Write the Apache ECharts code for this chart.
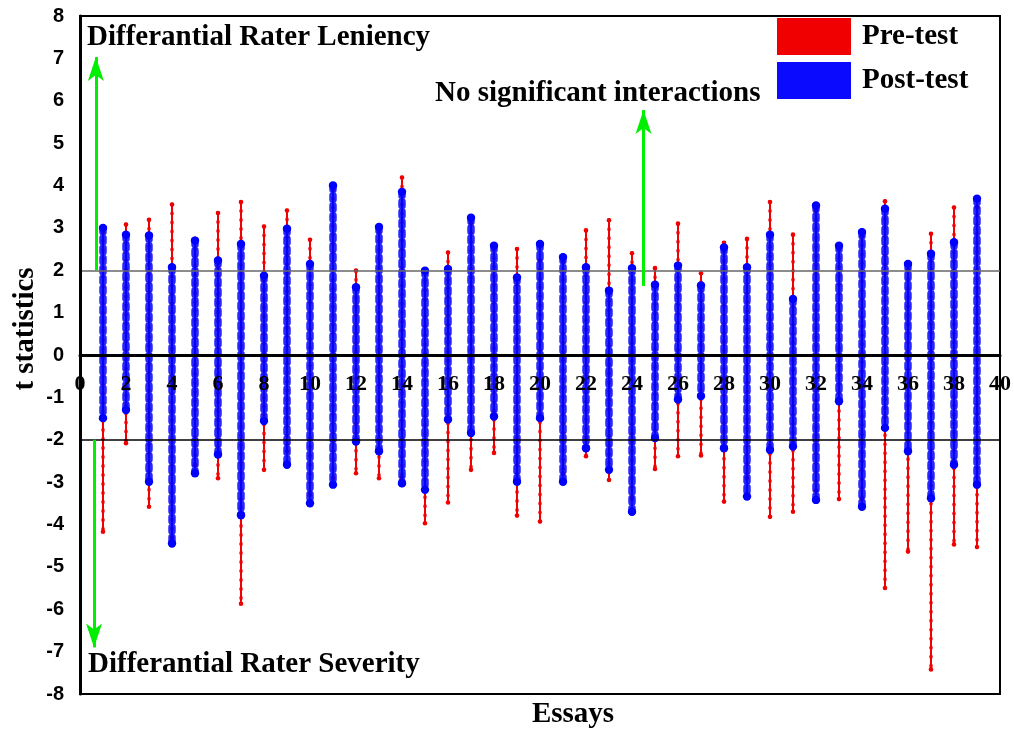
<!DOCTYPE html>
<html>
<head>
<meta charset="utf-8">
<script src="https://cdn.jsdelivr.net/npm/echarts@6/dist/echarts.min.js"></script>
<style>
  html, body { margin: 0; padding: 0; background: #fff; }
  #container { width: 1014px; height: 731px; }
</style>
</head>
<body>
<div id="container"></div>
<script>
var essays = [1, 2, 3, 4, 5, 6, 7, 8, 9, 10, 11, 12, 13, 14, 15, 16, 17, 18, 19, 20,
              21, 22, 23, 24, 25, 26, 27, 28, 29, 30, 31, 32, 33, 34, 35, 36, 37, 38, 39];
// pre-test t statistics, top and bottom of each essay's spread
var preMax = [2.9, 3.08, 3.19, 3.55, 2.74, 3.35, 3.61, 3.03, 3.41, 2.72, 3.9, 1.99, 2.9, 4.19, 1.95, 2.42, 3.1, 2.5, 2.5, 2.23,
              2.2, 2.94, 3.18, 2.4, 2.05, 3.1, 1.93, 2.65, 2.74, 3.61, 2.84, 3.4, 2.5, 2.8, 3.63, 2.0, 2.86, 3.48, 3.5];
var preMin = [-4.17, -2.08, -3.58, -4.3, -2.6, -2.91, -5.87, -2.71, -2.27, -3.3, -2.9, -2.79, -2.91, -2.9, -3.97, -3.48, -2.71, -2.31, -3.79, -3.93,
              -2.8, -2.39, -2.95, -3.4, -2.69, -2.39, -2.37, -3.46, -2.9, -3.82, -3.7, -3.2, -3.4, -3.4, -5.5, -4.64, -7.42, -4.47, -4.53];
// post-test
var postMax = [3.0, 2.84, 2.82, 2.07, 2.7, 2.23, 2.62, 1.87, 2.98, 2.15, 4.0, 1.6, 3.02, 3.85, 1.99, 2.03, 3.24, 2.58, 1.83, 2.62,
               2.31, 2.07, 1.52, 2.05, 1.66, 2.11, 1.64, 2.54, 2.07, 2.84, 1.32, 3.53, 2.58, 2.9, 3.45, 2.15, 2.39, 2.66, 3.69];
var postMin = [-1.49, -1.3, -2.99, -4.45, -2.79, -2.35, -3.78, -1.56, -2.59, -3.5, -3.06, -2.04, -2.27, -3.03, -3.18, -1.52, -1.84, -1.45, -2.99, -1.49,
               -2.99, -2.2, -2.71, -3.7, -1.96, -1.05, -0.97, -2.2, -3.34, -2.24, -2.16, -3.42, -1.09, -3.58, -1.72, -2.27, -3.38, -2.59, -3.06];

var xTicks = [0, 40, 2];
var yTicks = [-8, 8, 1];

window.onload = function () {
    var dom = document.getElementById("container");
    var myChart = echarts.init(dom);

    var serif = "'Liberation Serif', 'Times New Roman', serif";
    var sans = "'Liberation Sans', Arial, sans-serif";

    var preData = [];
    var postData = [];
    for (var i = 0; i < essays.length; i++) {
        preData.push([essays[i], preMin[i], preMax[i]]);
        postData.push([essays[i], postMin[i], postMax[i]]);
    }

    function rangeRenderer(color, lw, dotW, dash, r, op) {
        return function (params, api) {
            var top = api.coord([api.value(0), api.value(2)]);
            var bot = api.coord([api.value(0), api.value(1)]);
            var shape = { x1: top[0], y1: top[1], x2: bot[0], y2: bot[1] };
            return {
                type: 'group',
                children: [
                    { type: 'line', shape: shape, style: { stroke: color, lineWidth: lw } },
                    { type: 'line', shape: shape, style: { stroke: color, lineWidth: dotW, lineDash: dash, lineCap: 'round', opacity: op } },
                    { type: 'circle', shape: { cx: top[0], cy: top[1], r: r }, style: { fill: color } },
                    { type: 'circle', shape: { cx: bot[0], cy: bot[1], r: r }, style: { fill: color } }
                ]
            };
        };
    }

    var green = '#00ee00';
    var titleFont = 'bold 29px ' + serif;

    option = {
        backgroundColor: '#fff',
        animation: false,
        grid: {
            left: 80, right: 13, top: 16, bottom: 37,
            show: true, borderColor: '#000', borderWidth: 2
        },
        legend: {
            data: ['Pre-test', 'Post-test'],
            orient: 'vertical',
            left: 777, top: 18,
            padding: 0,
            itemWidth: 74, itemHeight: 37, itemGap: 7,
            icon: 'rect',
            textStyle: { fontFamily: serif, fontWeight: 'bold', fontSize: 29, color: '#000', padding: [4, 0, 0, 6] }
        },
        xAxis: {
            type: 'value',
            min: xTicks[0], max: xTicks[1], interval: xTicks[2],
            position: 'bottom',
            offset: -339,
            z: 10,
            axisLine: { onZero: false, lineStyle: { color: '#000', width: 3 } },
            axisTick: { show: false },
            splitLine: { show: false },
            axisLabel: { fontFamily: serif, fontWeight: 'bold', fontSize: 22, color: '#000', margin: 18 }
        },
        yAxis: {
            type: 'value',
            min: yTicks[0], max: yTicks[1], interval: yTicks[2],
            z: 10,
            axisLine: { show: true, onZero: false, lineStyle: { color: '#000', width: 3 } },
            axisTick: { show: false },
            splitLine: { show: false },
            axisLabel: { fontFamily: sans, fontWeight: 'bold', fontSize: 20, color: '#000', margin: 16 }
        },
        graphic: [
            { type: 'text', x: 87, y: 38, style: { text: 'Differantial Rater Leniency', font: titleFont, fill: '#000', align: 'left', verticalAlign: 'middle' } },
            { type: 'text', x: 435, y: 94, style: { text: 'No significant interactions', font: titleFont, fill: '#000', align: 'left', verticalAlign: 'middle' } },
            { type: 'text', x: 88, y: 665, style: { text: 'Differantial Rater Severity', font: titleFont, fill: '#000', align: 'left', verticalAlign: 'middle' } },
            { type: 'text', x: 573, y: 715, style: { text: 'Essays', font: titleFont, fill: '#000', align: 'center', verticalAlign: 'middle' } },
            { type: 'text', x: 26, y: 329, rotation: Math.PI / 2, style: { text: 't statistics', font: titleFont, fill: '#000', align: 'center', verticalAlign: 'middle' } }
        ],
        series: [
            {
                name: 'Pre-test',
                type: 'custom',
                itemStyle: { color: '#f00000' },
                encode: { x: 0, y: [1, 2] },
                renderItem: rangeRenderer('#f00000', 2, 4, [0, 9], 2.3, 0.75),
                data: preData,
                z: 3
            },
            {
                name: 'Post-test',
                type: 'custom',
                itemStyle: { color: '#0a0aff' },
                encode: { x: 0, y: [1, 2] },
                renderItem: rangeRenderer('#0000ff', 1.5, 7.5, [4, 6], 4.2, 0.85),
                data: postData,
                z: 4
            },
            {
                name: 'guides',
                type: 'line',
                data: [],
                z: 2,
                markLine: {
                    silent: true,
                    animation: false,
                    symbol: ['none', 'none'],
                    label: { show: false },
                    data: [
                        { yAxis: 2, lineStyle: { color: '#666', width: 1.5, type: 'solid' } },
                        { yAxis: -2, lineStyle: { color: '#000', width: 1.5, type: 'solid' } },
                        [{ coord: [0.69, 2], symbol: 'none', lineStyle: { color: green, width: 3, type: 'solid' } },
                         { coord: [0.69, 7.03], symbol: 'arrow', symbolSize: [12, 24] }],
                        [{ coord: [0.61, -2], symbol: 'none', lineStyle: { color: green, width: 3, type: 'solid' } },
                         { coord: [0.61, -6.9], symbol: 'arrow', symbolSize: [12, 24] }],
                        [{ coord: [24.5, 1.63], symbol: 'none', lineStyle: { color: green, width: 3, type: 'solid' } },
                         { coord: [24.5, 5.78], symbol: 'arrow', symbolSize: [12, 24] }]
                    ]
                }
            }
        ]
    };
    if (option && typeof option === "object") {
        myChart.setOption(option, true);
    }
};
</script>
</body>
</html>
